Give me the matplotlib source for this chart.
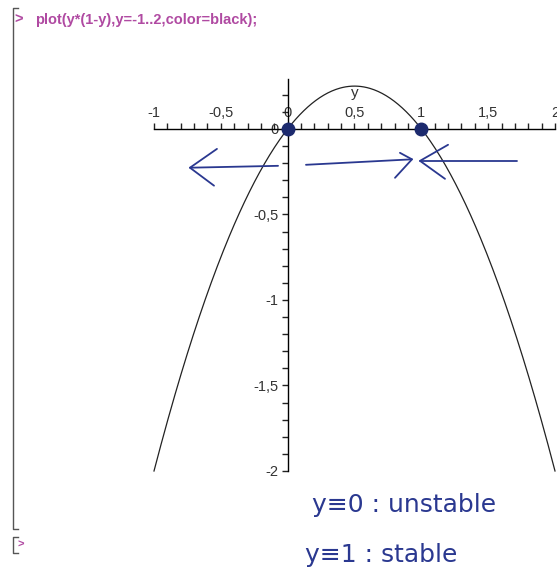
import numpy as np
import matplotlib
matplotlib.use("Agg")
import matplotlib.pyplot as plt
from matplotlib.ticker import MultipleLocator, FuncFormatter
from matplotlib.lines import Line2D

plt.rcParams['axes.unicode_minus'] = False

# ---- data ----
y_range = [-1.0, 2.0]                 # plot range y = -1..2
x_major_ticks = [-1, -0.5, 0, 0.5, 1, 1.5, 2]
y_major_ticks = [-2, -1.5, -1, -0.5, 0]
equilibria = [0, 1]                   # marked equilibrium points
command_text = "plot(y*(1-y),y=-1..2,color=black);"
note_lines = ["y\u22610 : unstable", "y\u22611 : stable"]

yy = np.linspace(y_range[0], y_range[1], 400)
ff = yy * (1 - yy)

W, H = 557, 578
fig = plt.figure(figsize=(W / 100, H / 100), dpi=100)
fig.patch.set_facecolor('white')

# axes placement (pixels)
px_left, px_right = 154, 555
px_bottom = 471
ylo, yhi = -2.0, 0.29
px_per_unit_y = 171.5
px_top = 129 - yhi * px_per_unit_y
ax = fig.add_axes([px_left / W, 1 - px_bottom / H,
                   (px_right - px_left) / W, (px_bottom - px_top) / H])
ax.set_xlim(y_range)
ax.set_ylim(ylo, yhi)
ax.patch.set_alpha(0)

ax.plot(yy, ff, color='#222222', lw=0.9, clip_on=False)

# Maple-style axes through the origin
ax.spines['top'].set_position(('data', 0))
ax.spines['left'].set_position(('data', 0))
ax.spines['bottom'].set_visible(False)
ax.spines['right'].set_visible(False)
for s in ('top', 'left'):
    ax.spines[s].set_linewidth(1.0)
ax.xaxis.tick_top()
ax.yaxis.tick_left()

fmt = FuncFormatter(lambda v, p: ('%g' % v).replace('.', ','))
ax.set_xticks(x_major_ticks)
ax.set_yticks(y_major_ticks)
ax.xaxis.set_major_formatter(fmt)
ax.yaxis.set_major_formatter(fmt)
ax.xaxis.set_minor_locator(MultipleLocator(0.1))
ax.yaxis.set_minor_locator(MultipleLocator(0.1))
ax.tick_params(which='both', direction='out', length=4.5, width=1.0, color='#222222')
ax.tick_params(axis='both', which='major', labelsize=10.5, pad=2, labelcolor='#333333')
for lab in ax.get_xticklabels() + ax.get_yticklabels():
    lab.set_family('Liberation Sans')

ax.text(0.5, 0.21, 'y', fontsize=11, family='Liberation Sans', color='#333333',
        ha='center', va='center')

# handwritten annotations
ink = '#2a3890'
ax.plot(equilibria, [0] * len(equilibria), 'o', color='#1c2a6e', ms=9, clip_on=False,
        zorder=5)

def stroke(xs, ys):
    ax.plot(xs, ys, color=ink, lw=1.3, solid_capstyle='round', clip_on=False)

# left arrow
stroke([-0.072, -0.731], [-0.216, -0.227])
stroke([-0.529, -0.731, -0.551], [-0.117, -0.227, -0.332])
# middle arrow
stroke([0.137, 0.930], [-0.210, -0.178])
stroke([0.840, 0.930, 0.803], [-0.140, -0.178, -0.286])
# right arrow
stroke([1.716, 0.990], [-0.187, -0.187])
stroke([1.200, 0.990, 1.177], [-0.093, -0.187, -0.292])

fig.text(312 / W, 1 - 505 / H, note_lines[0], fontsize=18, color=ink,
         family=['DejaVu Sans', 'Noto Sans'], va='center', ha='left')
fig.text(305 / W, 1 - 555 / H, note_lines[1], fontsize=18, color=ink,
         family=['DejaVu Sans', 'Noto Sans'], va='center', ha='left')

# Maple worksheet decorations
magenta = '#b04aa2'
fig.text(14 / W, 1 - 20 / H, '>', fontsize=10.5, color=magenta, fontweight='bold',
         family='Liberation Sans', va='center', ha='left')
fig.text(35 / W, 1 - 20 / H, command_text, fontsize=10.5, color=magenta,
         fontweight='bold', family='Liberation Sans', va='center', ha='left')
fig.text(17 / W, 1 - 545 / H, '>', fontsize=8, color=magenta, fontweight='bold',
         family='Liberation Sans', va='center', ha='left')

def bracket(y0, y1):
    x = 13
    fig.add_artist(Line2D([(x + 5) / W, x / W, x / W, (x + 5) / W],
                          [1 - y0 / H, 1 - y0 / H, 1 - y1 / H, 1 - y1 / H],
                          color='#555555', lw=1.0))

bracket(8, 529)
bracket(537, 553)

fig.savefig('out.png', dpi=100, facecolor='white')
